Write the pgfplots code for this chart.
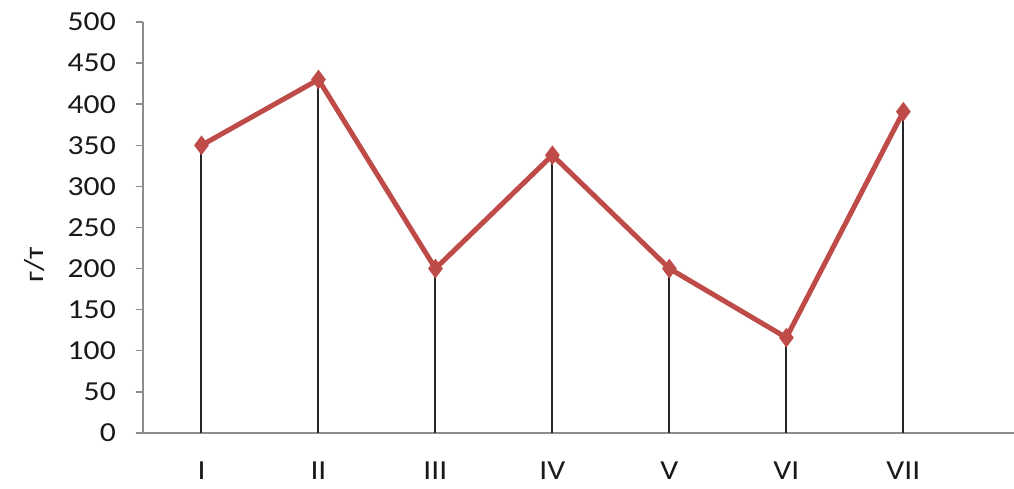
\documentclass[border=0pt]{standalone}
\usepackage{pgfplots}
\pgfplotsset{compat=1.18}
\usepackage{fontspec}
\setmainfont{Carlito}[FakeStretch=1.15]
\definecolor{exred}{RGB}{190,75,72}
\definecolor{axgray}{RGB}{140,140,140}
\begin{document}
\begin{tikzpicture}
\useasboundingbox (0,0) rectangle (1014pt,489pt);
\begin{axis}[
  at={(143pt,56pt)}, anchor=south west,
  scale only axis, width=875pt, height=411pt,
  xmin=-0.5, xmax=6.98, ymin=0, ymax=500,
  axis lines=left, axis line style={axgray, line width=1.6pt, -},
  xtick={0,...,6}, xticklabels={I,II,III,IV,V,VI,VII},
  ytick={0,50,...,500},
  x tick style={draw=none},
  y tick style={axgray, line width=1.4pt},
  tick align=outside, major tick length=7pt,
  tick label style={font=\fontsize{27.5}{30}\selectfont, text=black!90},
  yticklabel style={inner sep=0pt, xshift=-20pt},
  xticklabel style={inner sep=0pt, yshift=-22pt},
  /pgf/number format/assume math mode=true,
  ylabel={г/т},
  ylabel style={font=\fontsize{27.5}{30}\selectfont, text=black!90, anchor=center, at={(axis description cs:-0.124,0.41)}},
  clip=false,
]
\addplot[ycomb, black!85, line width=2pt, mark=none] coordinates {
 (0,350) (1,430) (2,200) (3,338) (4,200) (5,116) (6,391)};
\addplot[exred, line width=5pt, mark=diamond*, mark size=9pt, mark options={fill=exred, draw=exred, line width=1pt}] coordinates {
 (0,350) (1,430) (2,200) (3,338) (4,200) (5,116) (6,391)};
\end{axis}
\end{tikzpicture}
\end{document}
